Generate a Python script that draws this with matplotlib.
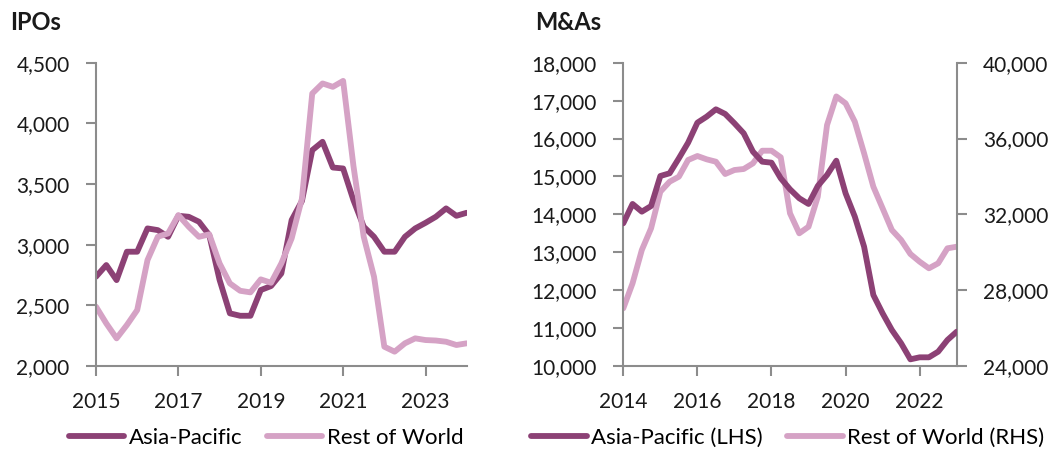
import numpy as np
import matplotlib
matplotlib.use("Agg")
import matplotlib.pyplot as plt

plt.rcParams['font.family'] = ['Lato', 'DejaVu Sans']

# IPOs, quarterly 2015Q1 - 2024Q1
ipo_apac = [2736, 2832, 2708, 2942, 2942, 3134, 3120, 3065, 3238, 3230,
            3189, 3079, 2710, 2434, 2414, 2414, 2626, 2659, 2763, 3203,
            3360, 3779, 3848, 3636, 3628, 3367, 3148, 3065, 2942, 2942,
            3065, 3134, 3180, 3230, 3299, 3238, 3263]
ipo_row = [2489, 2351, 2228, 2338, 2461, 2873, 3065, 3093, 3244, 3148,
           3065, 3085, 2846, 2681, 2620, 2607, 2714, 2686, 2846, 3052,
           3380, 4246, 4329, 4301, 4350, 3650, 3065, 2736, 2159, 2118,
           2187, 2228, 2214, 2210, 2200, 2173, 2187]

# M&As, quarterly 2014Q1 - 2023Q1
ma_apac = [13764, 14274, 14071, 14220, 15012, 15083, 15478, 15891, 16418, 16577,
           16771, 16648, 16402, 16138, 15653, 15389, 15363, 14951, 14661, 14424,
           14274, 14748, 15039, 15416, 14556, 13939, 13147, 11873, 11389, 10950,
           10598, 10176, 10229, 10229, 10378, 10686, 10905]
ma_row = [27043, 28362, 30119, 31263, 33194, 33722, 33986, 34867, 35078, 34903,
          34777, 34128, 34339, 34392, 34690, 35357, 35357, 35009, 32055, 31000,
          31348, 32931, 36713, 38220, 37857, 36887, 35220, 33458, 32318, 31174,
          30647, 29908, 29502, 29154, 29418, 30209, 30293]

ipo_x = 2015 + np.arange(len(ipo_apac)) * 0.25
ma_x = 2014 + np.arange(len(ma_apac)) * 0.25

DARK = '#8C4175'
LIGHT = '#D5A2C5'
GREY = '#8C8C8C'
FS = 15
LFS = 16
LW = 4.2

fig = plt.figure(figsize=(10.63, 4.5), dpi=100)
ax1 = fig.add_axes([96 / 1063, 1 - 366 / 450, 370.7 / 1063, 303.3 / 450])
ax2 = fig.add_axes([623.3 / 1063, 1 - 366 / 450, 333.4 / 1063, 303.3 / 450])
ax3 = ax2.twinx()


def style(ax, right=False):
    for s in ['top', 'right', 'left', 'bottom']:
        ax.spines[s].set_visible(False)
    ax.spines['bottom'].set_visible(True)
    ax.spines['bottom'].set_color(GREY)
    ax.spines['bottom'].set_linewidth(1.5)
    side = 'right' if right else 'left'
    ax.spines[side].set_visible(True)
    ax.spines[side].set_color(GREY)
    ax.spines[side].set_linewidth(1.5)
    ax.tick_params(axis='both', colors=GREY, width=1.5, length=7,
                   labelsize=FS, labelcolor='#1a1a1a', pad=12)


# IPOs
l1, = ax1.plot(ipo_x, ipo_apac, color=DARK, lw=LW, solid_joinstyle='round',
               solid_capstyle='round', label='Asia-Pacific')
l2, = ax1.plot(ipo_x, ipo_row, color=LIGHT, lw=LW, solid_joinstyle='round',
               solid_capstyle='round', label='Rest of World')
ax1.set_xlim(2015, 2024)
ax1.set_ylim(2000, 4500)
ax1.set_xticks([2015, 2017, 2019, 2021, 2023])
ax1.set_yticks(np.arange(2000, 4501, 500))
ax1.yaxis.set_major_formatter(matplotlib.ticker.StrMethodFormatter('{x:,.0f}'))
style(ax1)
ax1.legend(handles=[l1, l2], loc='center', bbox_to_anchor=(266 / 1063, 1 - 437.5 / 450),
           bbox_transform=fig.transFigure, ncol=2, frameon=False, fontsize=LFS,
           handlelength=2.5, handletextpad=0.2, columnspacing=1.1)

# M&As
m1, = ax2.plot(ma_x, ma_apac, color=DARK, lw=LW, solid_joinstyle='round',
               solid_capstyle='round', label='Asia-Pacific (LHS)', zorder=3)
m2, = ax3.plot(ma_x, ma_row, color=LIGHT, lw=LW, solid_joinstyle='round',
               solid_capstyle='round', label='Rest of World (RHS)')
ax2.set_zorder(ax3.get_zorder() + 1)
ax2.patch.set_visible(False)
ax2.set_xlim(2014, 2023)
ax2.set_ylim(10000, 18000)
ax3.set_ylim(24000, 40000)
ax2.set_xticks([2014, 2016, 2018, 2020, 2022])
ax2.set_yticks(np.arange(10000, 18001, 1000))
ax3.set_yticks(np.arange(24000, 40001, 4000))
ax2.yaxis.set_major_formatter(matplotlib.ticker.StrMethodFormatter('{x:,.0f}'))
ax3.yaxis.set_major_formatter(matplotlib.ticker.StrMethodFormatter('{x:,.0f}'))
style(ax2)
style(ax3, right=True)
ax3.spines['bottom'].set_visible(False)
ax2.legend(handles=[m1, m2], loc='center', bbox_to_anchor=(788 / 1063, 1 - 437.5 / 450),
           bbox_transform=fig.transFigure, ncol=2, frameon=False, fontsize=LFS,
           handlelength=2.5, handletextpad=0.2, columnspacing=1.1)

fig.text(10 / 1063, 1 - 22 / 450, 'IPOs', fontsize=17, fontweight='bold',
         ha='left', va='center', color='#1a1a1a')
fig.text(535 / 1063, 1 - 22 / 450, 'M&As', fontsize=17, fontweight='bold',
         ha='left', va='center', color='#1a1a1a')

fig.savefig('out.png', dpi=100)
